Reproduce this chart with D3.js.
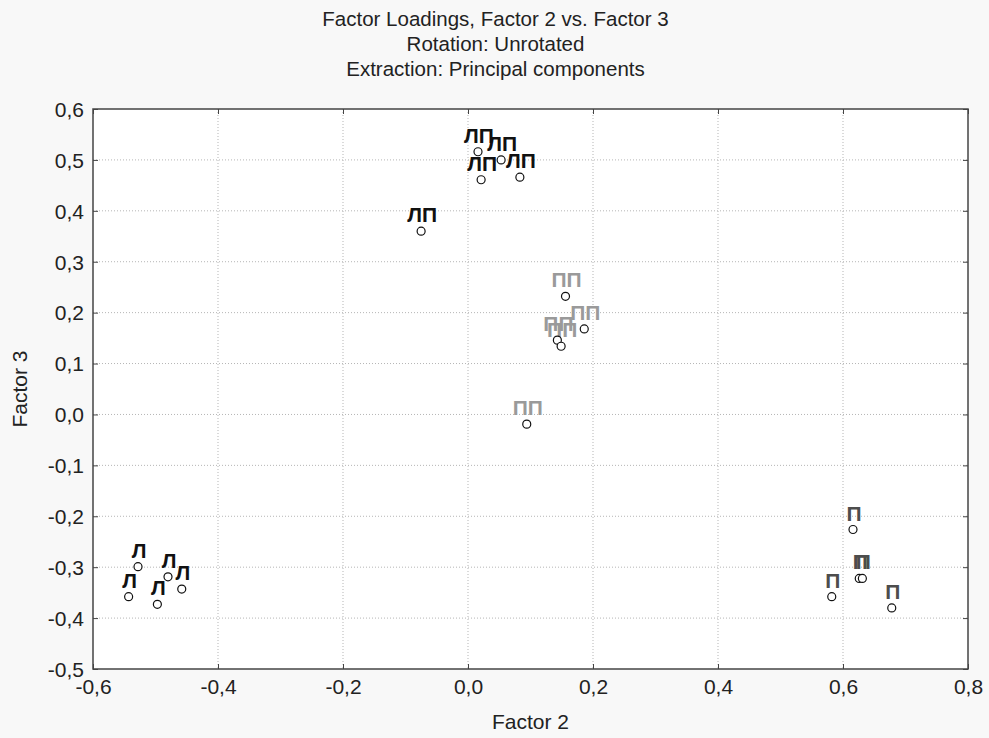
<!DOCTYPE html>
<html>
<head>
<meta charset="utf-8">
<script src="https://cdn.jsdelivr.net/npm/d3@7"></script>
<style>
  html, body { margin: 0; padding: 0; background: #f8f8f8; }
  svg { display: block; font-family: "Liberation Sans", Arial, sans-serif; }
</style>
</head>
<body>
<svg></svg>
<script>
// factor loadings
const labels = [
  "ЛП", "ЛП", "ЛП", "ЛП", "ЛП",
  "ПП", "ПП", "ПП", "ПП", "ПП",
  "Л", "Л", "Л", "Л", "Л",
  "П", "П", "П", "П", "П"
];
const factor2 = [
  0.016, 0.053, 0.021, 0.083, -0.075,
  0.156, 0.186, 0.143, 0.149, 0.094,
  -0.528, -0.543, -0.480, -0.458, -0.497,
  0.616, 0.626, 0.631, 0.582, 0.678
];
const factor3 = [
  0.516, 0.500, 0.461, 0.466, 0.360,
  0.232, 0.168, 0.146, 0.134, -0.019,
  -0.299, -0.358, -0.319, -0.343, -0.373,
  -0.226, -0.322, -0.322, -0.358, -0.380
];
const xTicks = [-0.6, -0.4, -0.2, 0.0, 0.2, 0.4, 0.6, 0.8];
const yTicks = [-0.5, -0.4, -0.3, -0.2, -0.1, 0.0, 0.1, 0.2, 0.3, 0.4, 0.5, 0.6];
const titleLines = ["Factor Loadings, Factor 2 vs. Factor 3", "Rotation: Unrotated", "Extraction: Principal components"];
const labelColor = { "ЛП": "#111", "ПП": "#9a9a9a", "Л": "#111", "П": "#4d4d4d" };

const W = 989, H = 738;
const m = { left: 93, right: 21, top: 109, bottom: 69 };
const svg = d3.select("svg").attr("width", W).attr("height", H);

const x = d3.scaleLinear().domain([-0.6, 0.8]).range([m.left, W - m.right]);
const y = d3.scaleLinear().domain([-0.5, 0.6]).range([H - m.bottom, m.top]);

const loc = d3.formatLocale({ decimal: ",", thousands: ".", grouping: [3], currency: ["", ""], minus: "-" });
const fmt = loc.format(".1f");

svg.append("rect")
  .attr("x", m.left).attr("y", m.top)
  .attr("width", x.range()[1] - m.left).attr("height", y.range()[0] - m.top)
  .attr("fill", "#fff");

// grid
const grid = svg.append("g").attr("stroke", "#b5b5b5").attr("stroke-dasharray", "1,2");
grid.selectAll(".gx").data(xTicks.slice(1, -1)).join("line")
  .attr("x1", d => x(d)).attr("x2", d => x(d))
  .attr("y1", m.top).attr("y2", y.range()[0]);
grid.selectAll(".gy").data(yTicks.slice(1, -1)).join("line")
  .attr("y1", d => y(d)).attr("y2", d => y(d))
  .attr("x1", m.left).attr("x2", x.range()[1]);

// axes, ticks pointing inward
const bottom = svg.append("g").attr("transform", `translate(0,${y.range()[0]})`)
  .call(d3.axisBottom(x).tickValues(xTicks).tickFormat(fmt).tickSizeInner(-5).tickSizeOuter(0).tickPadding(10));
const left = svg.append("g").attr("transform", `translate(${m.left},0)`)
  .call(d3.axisLeft(y).tickValues(yTicks).tickFormat(fmt).tickSizeInner(-5).tickSizeOuter(0).tickPadding(9));
svg.append("g").attr("transform", `translate(0,${m.top})`)
  .call(d3.axisTop(x).tickValues(xTicks).tickFormat("").tickSizeInner(-5).tickSizeOuter(0));
svg.append("g").attr("transform", `translate(${x.range()[1]},0)`)
  .call(d3.axisRight(y).tickValues(yTicks).tickFormat("").tickSizeInner(-5).tickSizeOuter(0));

svg.selectAll(".domain").remove();
svg.selectAll(".tick line").attr("stroke", "#444");
[bottom, left].forEach(a => a.selectAll("text").attr("font-size", 21).attr("fill", "#222").attr("font-family", "Liberation Sans, Arial, sans-serif"));
left.selectAll("text").attr("dy", "0.35em");

svg.append("rect")
  .attr("x", m.left).attr("y", m.top)
  .attr("width", x.range()[1] - m.left).attr("height", y.range()[0] - m.top)
  .attr("fill", "none").attr("stroke", "#444").attr("stroke-width", 1.5);

// titles
svg.selectAll(".title").data(titleLines).join("text")
  .attr("x", (m.left + x.range()[1]) / 2 - 35)
  .attr("y", (d, i) => 26 + i * 25)
  .attr("text-anchor", "middle")
  .attr("font-size", 20.5).attr("fill", "#222")
  .text(d => d);

svg.append("text")
  .attr("x", (m.left + x.range()[1]) / 2).attr("y", 729)
  .attr("text-anchor", "middle").attr("font-size", 21).attr("fill", "#222")
  .text("Factor 2");
svg.append("text")
  .attr("transform", `translate(27,${(m.top + y.range()[0]) / 2}) rotate(-90)`)
  .attr("text-anchor", "middle").attr("font-size", 21).attr("fill", "#222")
  .text("Factor 3");

// points and labels
const pts = d3.range(labels.length);
svg.append("g").selectAll("text").data(pts).join("text")
  .attr("x", i => x(factor2[i]) + 1)
  .attr("y", i => y(factor3[i]) - 9)
  .attr("text-anchor", "middle")
  .attr("font-size", 21).attr("font-weight", "bold")
  .attr("fill", i => labelColor[labels[i]])
  .text(i => labels[i]);

svg.append("g").selectAll("circle").data(pts).join("circle")
  .attr("cx", i => x(factor2[i]))
  .attr("cy", i => y(factor3[i]))
  .attr("r", 4)
  .attr("fill", "#fff").attr("stroke", "#111").attr("stroke-width", 1.2);
</script>
</body>
</html>
